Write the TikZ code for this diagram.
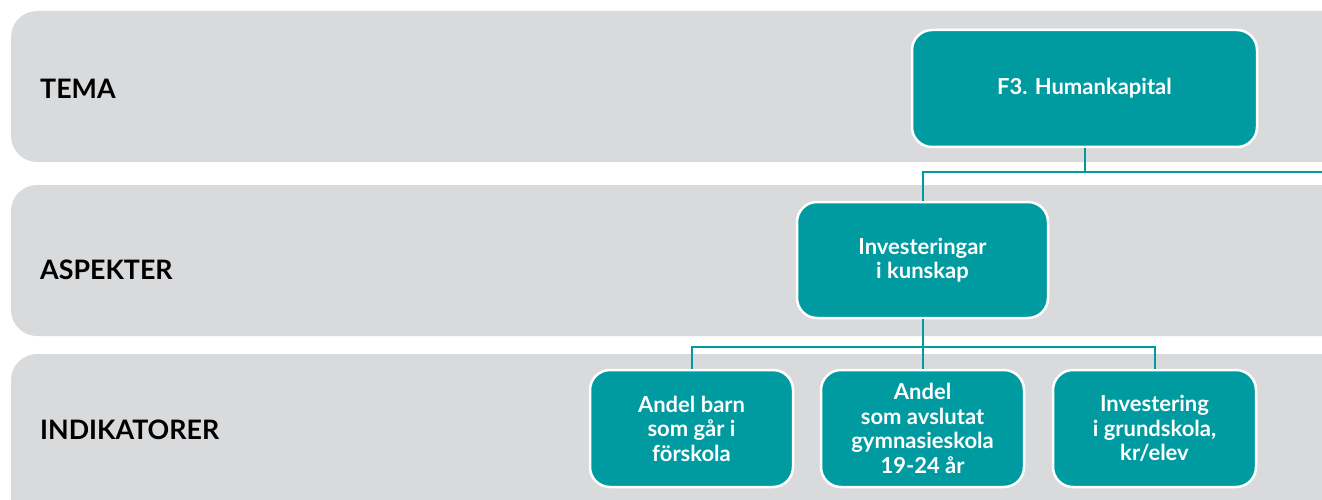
\documentclass[tikz,border=0pt]{standalone}
\usepackage{fontspec}
\setmainfont{Lato}
\definecolor{band}{HTML}{D9DADC}
\definecolor{teal}{HTML}{009BA1}
\begin{document}
\begin{tikzpicture}[x=1pt,y=1pt,
  bandbox/.style={fill=band,draw=none,rounded corners=26pt},
  lvl/.style={anchor=base west,font=\fontsize{26.8}{30}\selectfont\bfseries,text=black,inner sep=0pt},
  tbox/.style={fill=teal,draw=white,line width=2.5pt,rounded corners=20pt,
    text=white,font=\fontsize{22}{24.5}\selectfont\bfseries,align=center,inner sep=0pt},
  conn/.style={draw=teal,line width=2pt}]
\useasboundingbox (0,0) rectangle (1322,499);
\clip (0,0) rectangle (1322,499);
\fill[bandbox] (11,488) rectangle (1400,337);
\fill[bandbox] (11,314) rectangle (1400,163);
\fill[bandbox] (11,145) rectangle (1400,-40);
\node[lvl] (ltema) at (40,400) {TEMA};
\node[lvl] (lasp) at (40,220) {ASPEKTER};
\node[lvl] (lind) at (40,60) {INDIKATORER};
\coordinate (j1) at (1084.5,327);
\coordinate (jr) at (1340,327);
\coordinate (j2) at (922.5,152);
\node[tbox,minimum width=345pt,minimum height=117pt] (f3) at (1084.5,410.5) {F3. Humankapital};
\node[tbox,minimum width=251pt,minimum height=116pt] (inv) at (922.5,239) {Investeringar\\i kunskap};
\node[tbox,minimum width=203pt,minimum height=117pt] (a) at (691.5,70.5) {Andel barn\\som går i\\förskola};
\node[tbox,minimum width=203pt,minimum height=117pt] (b) at (922.5,70.5) {Andel\\som avslutat\\gymnasieskola\\19-24 år};
\node[tbox,minimum width=203pt,minimum height=117pt] (c) at (1154.5,70.5) {Investering\\i grundskola,\\kr/elev};
\draw[conn] (f3.south) -- (j1);
\draw[conn] (jr) -- (inv |- j1) -- (inv.north);
\draw[conn] (inv.south) -- (j2);
\draw[conn] (a.north) -- (a |- j2) -- (c |- j2) -- (c.north);
\draw[conn] (j2) -- (b.north);
\end{tikzpicture}
\end{document}
